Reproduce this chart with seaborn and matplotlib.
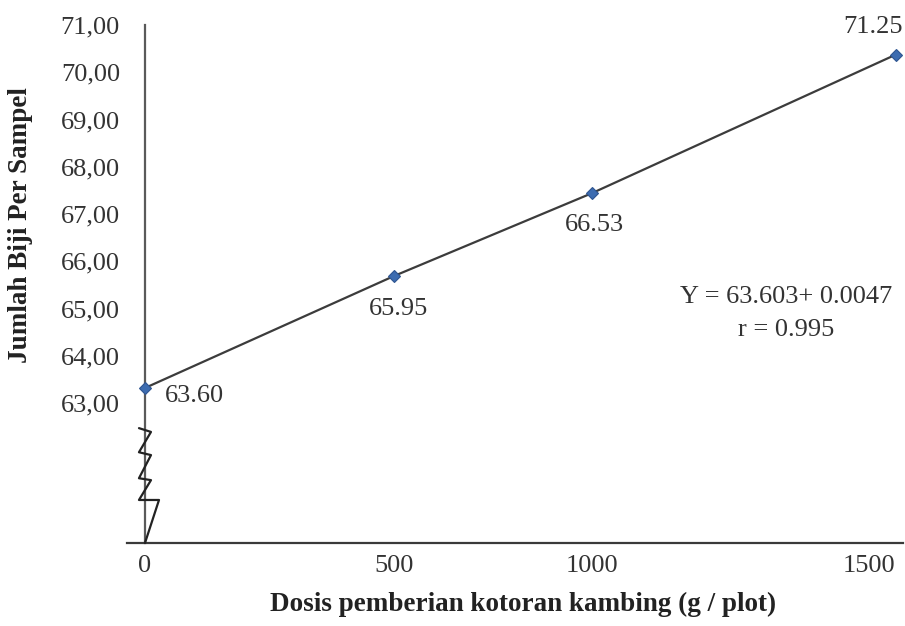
import matplotlib
matplotlib.use("Agg")
import matplotlib.pyplot as plt
import seaborn as sns
import pandas as pd

# ---- data ----
dose_labels = ["0", "500", "1000", "1500"]
dose_pos = [0, 498, 893, 1500]            # where each dose sits on the drawn x-axis
seeds_plotted = [63.32, 65.69, 67.44, 70.37]  # marker heights as drawn
seeds_text = ["63.60", "65.95", "66.53", "71.25"]  # printed data labels
y_ticks = [63, 64, 65, 66, 67, 68, 69, 70, 71]
equation = "Y = 63.603+ 0.0047"
corr = "r = 0.995"

df = pd.DataFrame({"dose": dose_pos, "seeds": seeds_plotted})

sns.set_theme(style="white")
plt.rcParams["font.family"] = ["Liberation Serif", "DejaVu Serif"]

fig = plt.figure(figsize=(9.05, 6.26), dpi=100)
ax = fig.add_axes([0.1403, 0.1326, 0.8575, 0.8275])

sns.lineplot(data=df, x="dose", y="seeds", ax=ax, color="#3c3c3c", linewidth=1.6,
             marker="D", markersize=6, markerfacecolor="#3d6cb0",
             markeredgecolor="#2f5590", markeredgewidth=0.8, clip_on=False, zorder=3)

ax.set_xlim(-36, 1515)
ax.set_ylim(60.04, 71)

ax.spines["left"].set_position(("data", 0))
for s in ["top", "right"]:
    ax.spines[s].set_visible(False)
ax.spines["left"].set_color("#5a5a5a")
ax.spines["bottom"].set_color("#3a3a3a")
ax.spines["left"].set_linewidth(1.6)
ax.spines["bottom"].set_linewidth(1.6)

fs = 19
ax.set_yticks(y_ticks)
ax.set_yticklabels([f"{v:.2f}".replace(".", ",") for v in y_ticks])
ax.set_xticks(dose_pos)
ax.set_xticklabels(dose_labels)
ax.tick_params(axis="y", length=0, pad=18, labelsize=fs, colors="#333333")
ax.tick_params(axis="x", length=0, pad=9, labelsize=fs, colors="#333333")
ax.get_xticklabels()[-1].set_horizontalalignment("right")

ax.set_xlabel("Dosis pemberian kotoran kambing (g / plot)", fontsize=19.5,
              fontweight="bold", color="#222222")
ax.set_ylabel("Jumlah Biji Per Sampel", fontsize=19.5, fontweight="bold",
              color="#222222")
ax.yaxis.set_label_coords(-0.121, 0.614)
ax.xaxis.set_label_coords(0.510, -0.094)

# data labels
offsets = [(14, -6), (3, -24), (2, -23), (5, 20)]
has = ["left", "center", "center", "right"]
for x, y, t, off, ha in zip(dose_pos, seeds_plotted, seeds_text, offsets, has):
    ax.annotate(t, (x, y), xytext=off, textcoords="offset points", ha=ha,
                va="center", fontsize=fs, color="#333333", annotation_clip=False)

ax.text(0.850, 0.475, equation, transform=ax.transAxes, ha="center", va="center",
        fontsize=fs, color="#333333")
ax.text(0.850, 0.411, corr, transform=ax.transAxes, ha="center", va="center",
        fontsize=fs, color="#333333")

# axis-break symbol on the y-axis (decoration)
zx = [-12, 12, -12, 12, -12, 12, -12, 28, 0]
zy = [62.47, 62.39, 61.96, 61.90, 61.41, 61.37, 60.95, 60.95, 60.04]
ax.plot(zx, zy, color="#222222", linewidth=1.6, clip_on=False, zorder=4)

fig.savefig("out.png", dpi=100)
